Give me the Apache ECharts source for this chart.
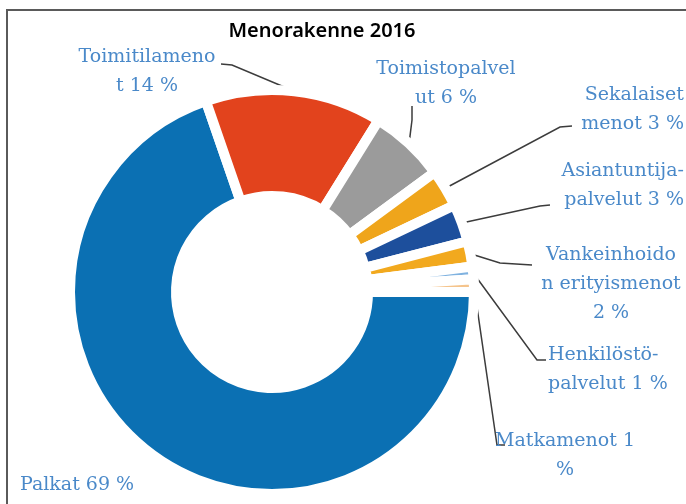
<!DOCTYPE html>
<html><head><meta charset="utf-8">
<script src="https://cdn.jsdelivr.net/npm/echarts/dist/echarts.min.js"></script>
<style>html,body{margin:0;padding:0;background:#fff}#c{width:686px;height:504px}</style>
</head><body><div id="c"></div>
<script>
const categories = ['Palkat','Toimitilamenot','Toimistopalvelut','Sekalaiset menot','Asiantuntijapalvelut','Vankeinhoidon erityismenot','Henkilöstöpalvelut','Matkamenot'];
const values = [69, 14, 6, 3, 3, 2, 1, 1];
const labelTexts = ['Palkat {v} %','Toimitilameno\nt {v} %','Toimistopalvel\nut {v} %','Sekalaiset\nmenot {v} %','Asiantuntija-\npalvelut {v} %','Vankeinhoido\nn erityismenot\n{v} %','Henkilöstö-\npalvelut {v} %','Matkamenot {v}\n%'];
const colors = ['#0b70b3','#e2431d','#9b9b9b','#efa51b','#1d4f9c','#f2a91e','#7fb2e0','#f5c48c'];

// label placement (layout only)
const labelPlace = [
  {x: 20,  y: 485, align: 'left'},
  {x: 147, y: 72,  align: 'center', line: [[232, 65], [221, 64]]},
  {x: 446, y: 84,  align: 'center', line: [[412, 120], [412, 106]]},
  {x: 684, y: 110, align: 'right',  line: [[560, 127], [572, 126]]},
  {x: 684, y: 186, align: 'right',  line: [[540, 206], [550, 205]]},
  {x: 611, y: 284, align: 'center', line: [[500, 263], [532, 265]]},
  {x: 548, y: 370, align: 'left',   line: [[537, 360], [546, 360]]},
  {x: 565, y: 456, align: 'center', line: [[497, 445], [505, 445]]}
];

const chart = echarts.init(document.getElementById('c'), null, {renderer: 'canvas'});
const data = categories.map((n, i) => ({
  name: n,
  value: values[i],
  itemStyle: {color: colors[i]},
  labelLine: {show: i !== 0}
}));

chart.setOption({
  animation: false,
  graphic: [
    {type: 'rect', shape: {x: 7, y: 10, width: 700, height: 520},
     style: {fill: null, stroke: '#5a5a5a', lineWidth: 2}, silent: true},
    {type: 'text', x: 322, y: 31,
     style: {text: 'Menorakenne 2016', textAlign: 'center', textVerticalAlign: 'middle',
             font: '600 20px "Noto Sans"', fill: '#000'}}
  ],
  series: [{
    type: 'pie',
    center: [272, 292],
    radius: [96, 202],
    startAngle: 0,
    clockwise: true,
    avoidLabelOverlap: false,
    emphasis: {disabled: true},
    itemStyle: {borderColor: '#fff', borderWidth: 10},
    label: {
      show: true,
      position: 'outside',
      formatter: p => labelTexts[p.dataIndex].replace('{v}', values[p.dataIndex]),
      color: '#4a89c9',
      fontFamily: 'DejaVu Serif',
      fontSize: 19,
      lineHeight: 29
    },
    labelLine: {show: true, length: 10, length2: 10, lineStyle: {color: '#3c3c3c', width: 1.5}},
    labelLayout: function (params) {
      const lp = labelPlace[params.dataIndex];
      const res = {x: lp.x, y: lp.y, align: lp.align, verticalAlign: 'middle'};
      if (lp.line && params.labelLinePoints) {
        res.labelLinePoints = [params.labelLinePoints[0], lp.line[0], lp.line[1]];
      }
      return res;
    },
    data: data
  }]
});
</script></body></html>
